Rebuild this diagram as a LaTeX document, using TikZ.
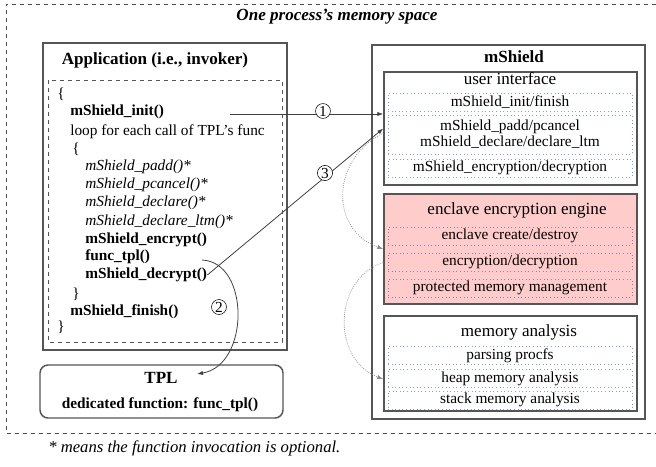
\documentclass[tikz,border=0pt]{standalone}
\usepackage{fontspec}
\setmainfont{Liberation Serif}
\usetikzlibrary{arrows.meta,positioning}

\definecolor{boxgray}{RGB}{85,85,85}
\definecolor{subblue}{RGB}{135,160,215}
\definecolor{subpurple}{RGB}{150,125,185}
\definecolor{enclavepink}{RGB}{255,204,204}

\def\sizecode{\fontsize{11.5pt}{13pt}\selectfont}
\def\sizehead{\fontsize{12.8pt}{14pt}\selectfont}

\begin{document}
\begin{tikzpicture}[x=0.75pt,y=-0.75pt,
    box/.style={draw=boxgray,line width=1.1pt,inner sep=0pt},
    subbox/.style={draw=subblue,dotted,line width=0.7pt,minimum width=183pt,
      minimum height=13.5pt,inner sep=0pt,font=\sizecode,align=center},
    encbox/.style={subbox,draw=subpurple},
    code/.style={anchor=west,inner sep=0pt,text height=8pt,text depth=2.5pt,font=\sizecode},
    head/.style={inner sep=0pt,font=\sizehead},
    conn/.style={draw=black!75,line width=0.6pt,-{Latex[length=4.5pt,width=3.2pt]}},
    hint/.style={conn,draw=black!45,densely dotted},
    numc/.style={circle,draw,fill=white,inner sep=0.6pt,font=\sizecode}]
    \useasboundingbox (0,0) rectangle (656,467);

    % Process memory space
    \draw[dashed,draw=black!70,line width=0.6pt] (656,4) -- (6,4) -- (6,433) -- (656,433);
    \node[font=\fontsize{12.8pt}{14pt}\selectfont\bfseries\itshape] (space) at (337,17) {One process's memory space};

    % Application
    \node[box,minimum width=183pt,minimum height=230.25pt] (app) at (165,196.5) {};
    \node[head,font=\sizehead\bfseries] (apptitle) at (155,60) {Application (i.e., invoker)};
    \draw[dashed,draw=boxgray,line width=0.6pt] (48,80) rectangle (282,342);

    % Code of the invoker
    \node[code] (lb1) at (57,95) {\{};
    \node[code,font=\sizecode\bfseries] (init) at (70,112) {mShield\_init()};
    \node[code] (loop) at (70,132) {loop for each call of TPL's func};
    \node[code] (lb2) at (72,150) {\{};
    \foreach \n/\y/\f in {padd/167/padd, pcancel/185/pcancel, declare/203/declare, ltm/222/declare\_ltm}
        \node[code,font=\sizecode\itshape] (\n) at (85,\y) {mShield\_\f()*};
    \node[code,font=\sizecode\bfseries] (encrypt) at (85,240) {mShield\_encrypt()};
    \node[code,font=\sizecode\bfseries] (functpl) at (85,257) {func\_tpl()};
    \node[code,font=\sizecode\bfseries] (decrypt) at (85,275) {mShield\_decrypt()};
    \node[code] (rb2) at (72,295) {\}};
    \node[code,font=\sizecode\bfseries] (finish) at (70,312) {mShield\_finish()};
    \node[code] (rb1) at (57,328) {\}};

    % TPL
    \node[box,rounded corners=6pt,minimum width=182.25pt,minimum height=39.75pt] (tpl) at (161.5,391.5) {};
    \node[head,font=\sizehead\bfseries] (tpltitle) at (161,378) {TPL};
    \node[inner sep=0pt,font=\sizecode\bfseries] (tplfunc) at (160,405) {dedicated function: func\_tpl()};

    % mShield
    \node[box,minimum width=204.75pt,minimum height=280.5pt] (mshield) at (508.5,232) {};
    \node[head,font=\sizehead\bfseries] (mtitle) at (514,57) {mShield};

    % user interface
    \node[box,minimum width=189.75pt,minimum height=84.75pt] (ui) at (510.5,128.5) {};
    \node[head] (uititle) at (510,79) {user interface};
    \node[subbox] (uiinit) at (510,102) {mShield\_init/finish};
    \node[subbox,minimum height=29.25pt] (uipadd) at (510,134.5) {mShield\_padd/pcancel\\[-1pt]mShield\_declare/declare\_ltm};
    \node[subbox] (uienc) at (510,168) {mShield\_encryption/decryption};

    % enclave encryption engine
    \node[box,fill=enclavepink,minimum width=189.75pt,minimum height=82.5pt] (enc) at (510.5,249) {};
    \node[head] (enctitle) at (517,210) {enclave encryption engine};
    \node[encbox] (enccreate) at (510,236) {enclave create/destroy};
    \node[encbox] (encdec) at (510,262) {encryption/decryption};
    \node[encbox] (encmem) at (510,288) {protected memory management};

    % memory analysis
    \node[box,minimum width=189.75pt,minimum height=71.25pt] (mem) at (510.5,363.5) {};
    \node[head] (memtitle) at (519,332) {memory analysis};
    \node[subbox] (memproc) at (510,355.5) {parsing procfs};
    \node[subbox] (memheap) at (510,378.5) {heap memory analysis};
    \node[subbox] (memstack) at (510,400) {stack memory analysis};

    % Calls
    \coordinate (c1s) at (230,114);
    \coordinate (c2s) at (202,260);
    \coordinate (c2e) at (197,374);
    \draw[conn] (c1s) -- (c1s -| ui.west);
    \draw[conn] (decrypt.east) -- (ui.west);
    \draw[conn] (c2s) .. controls (250,262) and (250,365) .. (c2e);
    \draw[hint] (ui.182) .. controls (330,160) and (330,230) .. (enc.west);
    \draw[hint] (enc.186) .. controls (332,280) and (332,360) .. (mem.187);

    % Step numbers
    \node[numc] (n1) at (323,111) {1};
    \node[numc] (n2) at (219,307) {2};
    \node[numc] (n3) at (325,173) {3};

    % Note
    \node[anchor=west,inner sep=0pt,font=\fontsize{12.5pt}{14pt}\selectfont\itshape] (note) at (48,448) {* means the function invocation is optional.};
\end{tikzpicture}
\end{document}
